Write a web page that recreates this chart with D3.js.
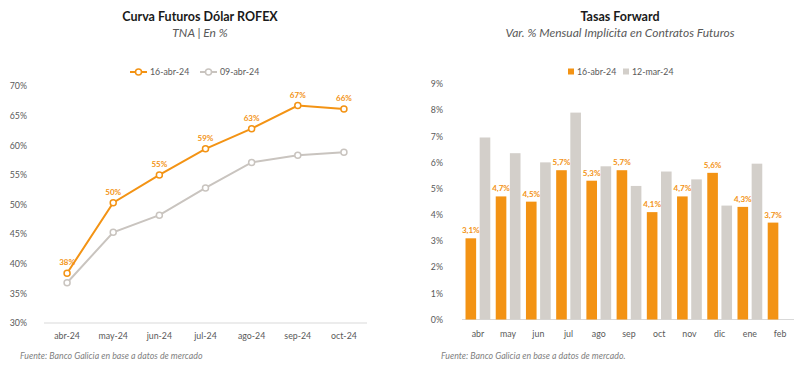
<!DOCTYPE html>
<html>
<head>
<meta charset="utf-8">
<script src="https://cdn.jsdelivr.net/npm/d3@7"></script>
<style>
  body { margin: 0; background: #fff; }
  svg { font-family: Lato, "Noto Sans", sans-serif; display: block; }
</style>
</head>
<body>
<svg id="chart" width="800" height="375"></svg>
<script>
// left: Curva Futuros Dolar ROFEX (TNA %)
var curveMonths = ["abr-24", "may-24", "jun-24", "jul-24", "ago-24", "sep-24", "oct-24"];
var curveApr16 = [38.4, 50.3, 55.0, 59.4, 62.8, 66.7, 66.1];
var curveApr09 = [36.8, 45.3, 48.2, 52.8, 57.1, 58.3, 58.8];
var curveTicks = [30, 35, 40, 45, 50, 55, 60, 65, 70];

// right: Tasas Forward (var. % mensual)
var fwdMonths = ["abr", "may", "jun", "jul", "ago", "sep", "oct", "nov", "dic", "ene", "feb"];
var fwdApr16 = [3.1, 4.7, 4.5, 5.7, 5.3, 5.7, 4.1, 4.7, 5.6, 4.3, 3.7];
var fwdMar12 = [6.95, 6.35, 6.0, 7.9, 5.85, 5.1, 5.65, 5.35, 4.35, 5.95, null];
var fwdTicks = [0, 1, 2, 3, 4, 5, 6, 7, 8, 9];

var orange = "#F39314";
var greyLine = "#C9C4BF";
var greyBar = "#D3CFCA";
var textCol = "#595959";

var svg = d3.select("#chart");

function titles(cx, title, sub) {
	svg.append("text").attr("x", cx).attr("y", 21).attr("text-anchor", "middle")
		.attr("font-size", 12.5).attr("font-weight", "bold").attr("fill", "#1a1a1a")
		.text(title);
	svg.append("text").attr("x", cx).attr("y", 37).attr("text-anchor", "middle")
		.attr("font-size", 12).attr("font-style", "italic").attr("fill", textCol)
		.text(sub);
}

function source(x, txt) {
	svg.append("text").attr("x", x).attr("y", 359)
		.attr("font-size", 8.8).attr("font-style", "italic").attr("fill", "#7f7f7f")
		.text(txt);
}

function styleAxis(g) {
	g.select(".domain").remove();
	g.selectAll(".tick line").remove();
	g.selectAll(".tick text").attr("fill", textCol).attr("font-size", 8.8)
		.attr("font-family", "Lato, 'Noto Sans', sans-serif");
}

// ---------- left chart ----------
titles(200, "Curva Futuros Dólar ROFEX", "TNA | En %");

var x1 = d3.scaleBand().domain(curveMonths).range([44, 367]);
var y1 = d3.scaleLinear().domain([30, 70]).range([323, 86]);

svg.append("line").attr("x1", 44).attr("x2", 367).attr("y1", y1(30)).attr("y2", y1(30))
	.attr("stroke", "#d9d9d9").attr("stroke-width", 1);

svg.append("g").attr("transform", "translate(36,0)")
	.call(d3.axisLeft(y1).tickValues(curveTicks).tickFormat(function (d) { return d + "%"; }))
	.call(styleAxis);

svg.append("g").attr("transform", "translate(0," + (y1(30) + 7) + ")")
	.call(d3.axisBottom(x1).tickSize(0))
	.call(styleAxis);

var line1 = d3.line()
	.x(function (d, i) { return x1(curveMonths[i]) + x1.bandwidth() / 2; })
	.y(function (d) { return y1(d); });

[[curveApr09, greyLine], [curveApr16, orange]].forEach(function (s) {
	svg.append("path").datum(s[0]).attr("d", line1)
		.attr("fill", "none").attr("stroke", s[1]).attr("stroke-width", 2);
	svg.selectAll(null).data(s[0]).enter().append("circle")
		.attr("cx", function (d, i) { return x1(curveMonths[i]) + x1.bandwidth() / 2; })
		.attr("cy", function (d) { return y1(d); })
		.attr("r", 3).attr("fill", "#fff").attr("stroke", s[1]).attr("stroke-width", 1.5);
});

svg.selectAll(null).data(curveApr16).enter().append("text")
	.attr("x", function (d, i) { return x1(curveMonths[i]) + x1.bandwidth() / 2; })
	.attr("y", function (d) { return y1(d) - 8; })
	.attr("text-anchor", "middle").attr("font-size", 8).attr("font-weight", "bold")
	.attr("fill", orange)
	.text(function (d) { return Math.round(d) + "%"; });

// legend left
var leg1 = [["16-abr-24", orange, 130], ["09-abr-24", greyLine, 200]];
leg1.forEach(function (l) {
	svg.append("line").attr("x1", l[2]).attr("x2", l[2] + 17).attr("y1", 72).attr("y2", 72)
		.attr("stroke", l[1]).attr("stroke-width", 2);
	svg.append("circle").attr("cx", l[2] + 8.5).attr("cy", 72).attr("r", 3)
		.attr("fill", "#fff").attr("stroke", l[1]).attr("stroke-width", 1.5);
	svg.append("text").attr("x", l[2] + 20).attr("y", 75).attr("font-size", 8.8)
		.attr("fill", textCol).text(l[0]);
});

source(20, "Fuente: Banco Galicia en base a datos de mercado");

// ---------- right chart ----------
titles(620, "Tasas Forward", "Var. % Mensual Implícita en Contratos Futuros");

var x2 = d3.scaleBand().domain(fwdMonths).range([464, 794]).paddingInner(0.18).paddingOuter(0.05);
var sub2 = d3.scaleBand().domain(["a", "b"]).range([0, x2.bandwidth()]).paddingInner(0.25);
var y2 = d3.scaleLinear().domain([0, 9]).range([319.5, 83.8]);

svg.append("line").attr("x1", 462).attr("x2", 794).attr("y1", y2(0)).attr("y2", y2(0))
	.attr("stroke", "#d9d9d9").attr("stroke-width", 1);

svg.append("g").attr("transform", "translate(452,0)")
	.call(d3.axisLeft(y2).tickValues(fwdTicks).tickFormat(function (d) { return d + "%"; }))
	.call(styleAxis);

svg.append("g").attr("transform", "translate(0," + (y2(0) + 8) + ")")
	.call(d3.axisBottom(x2).tickSize(0))
	.call(styleAxis);

svg.selectAll(null).data(fwdMar12).enter().filter(function (d) { return d != null; })
	.append("rect")
	.attr("x", function (d, i) { return x2(fwdMonths[i]) + sub2("b"); })
	.attr("y", function (d) { return y2(d); })
	.attr("width", sub2.bandwidth())
	.attr("height", function (d) { return y2(0) - y2(d); })
	.attr("fill", greyBar);

svg.selectAll(null).data(fwdApr16).enter().append("rect")
	.attr("x", function (d, i) { return x2(fwdMonths[i]) + sub2("a"); })
	.attr("y", function (d) { return y2(d); })
	.attr("width", sub2.bandwidth())
	.attr("height", function (d) { return y2(0) - y2(d); })
	.attr("fill", orange);

svg.selectAll(null).data(fwdApr16).enter().append("text")
	.attr("x", function (d, i) { return x2(fwdMonths[i]) + sub2("a") + sub2.bandwidth() / 2; })
	.attr("y", function (d) { return y2(d) - 5; })
	.attr("text-anchor", "middle").attr("font-size", 8).attr("font-weight", "bold")
	.attr("fill", orange)
	.text(function (d) { return d.toFixed(1).replace(".", ",") + "%"; });

// legend right
var leg2 = [["16-abr-24", orange, 568], ["12-mar-24", greyBar, 623]];
leg2.forEach(function (l) {
	svg.append("rect").attr("x", l[2]).attr("y", 68.5).attr("width", 6).attr("height", 6)
		.attr("fill", l[1]);
	svg.append("text").attr("x", l[2] + 9).attr("y", 75).attr("font-size", 8.8)
		.attr("fill", textCol).text(l[0]);
});

source(441, "Fuente: Banco Galicia en base a datos de mercado.");
</script>
</body>
</html>
